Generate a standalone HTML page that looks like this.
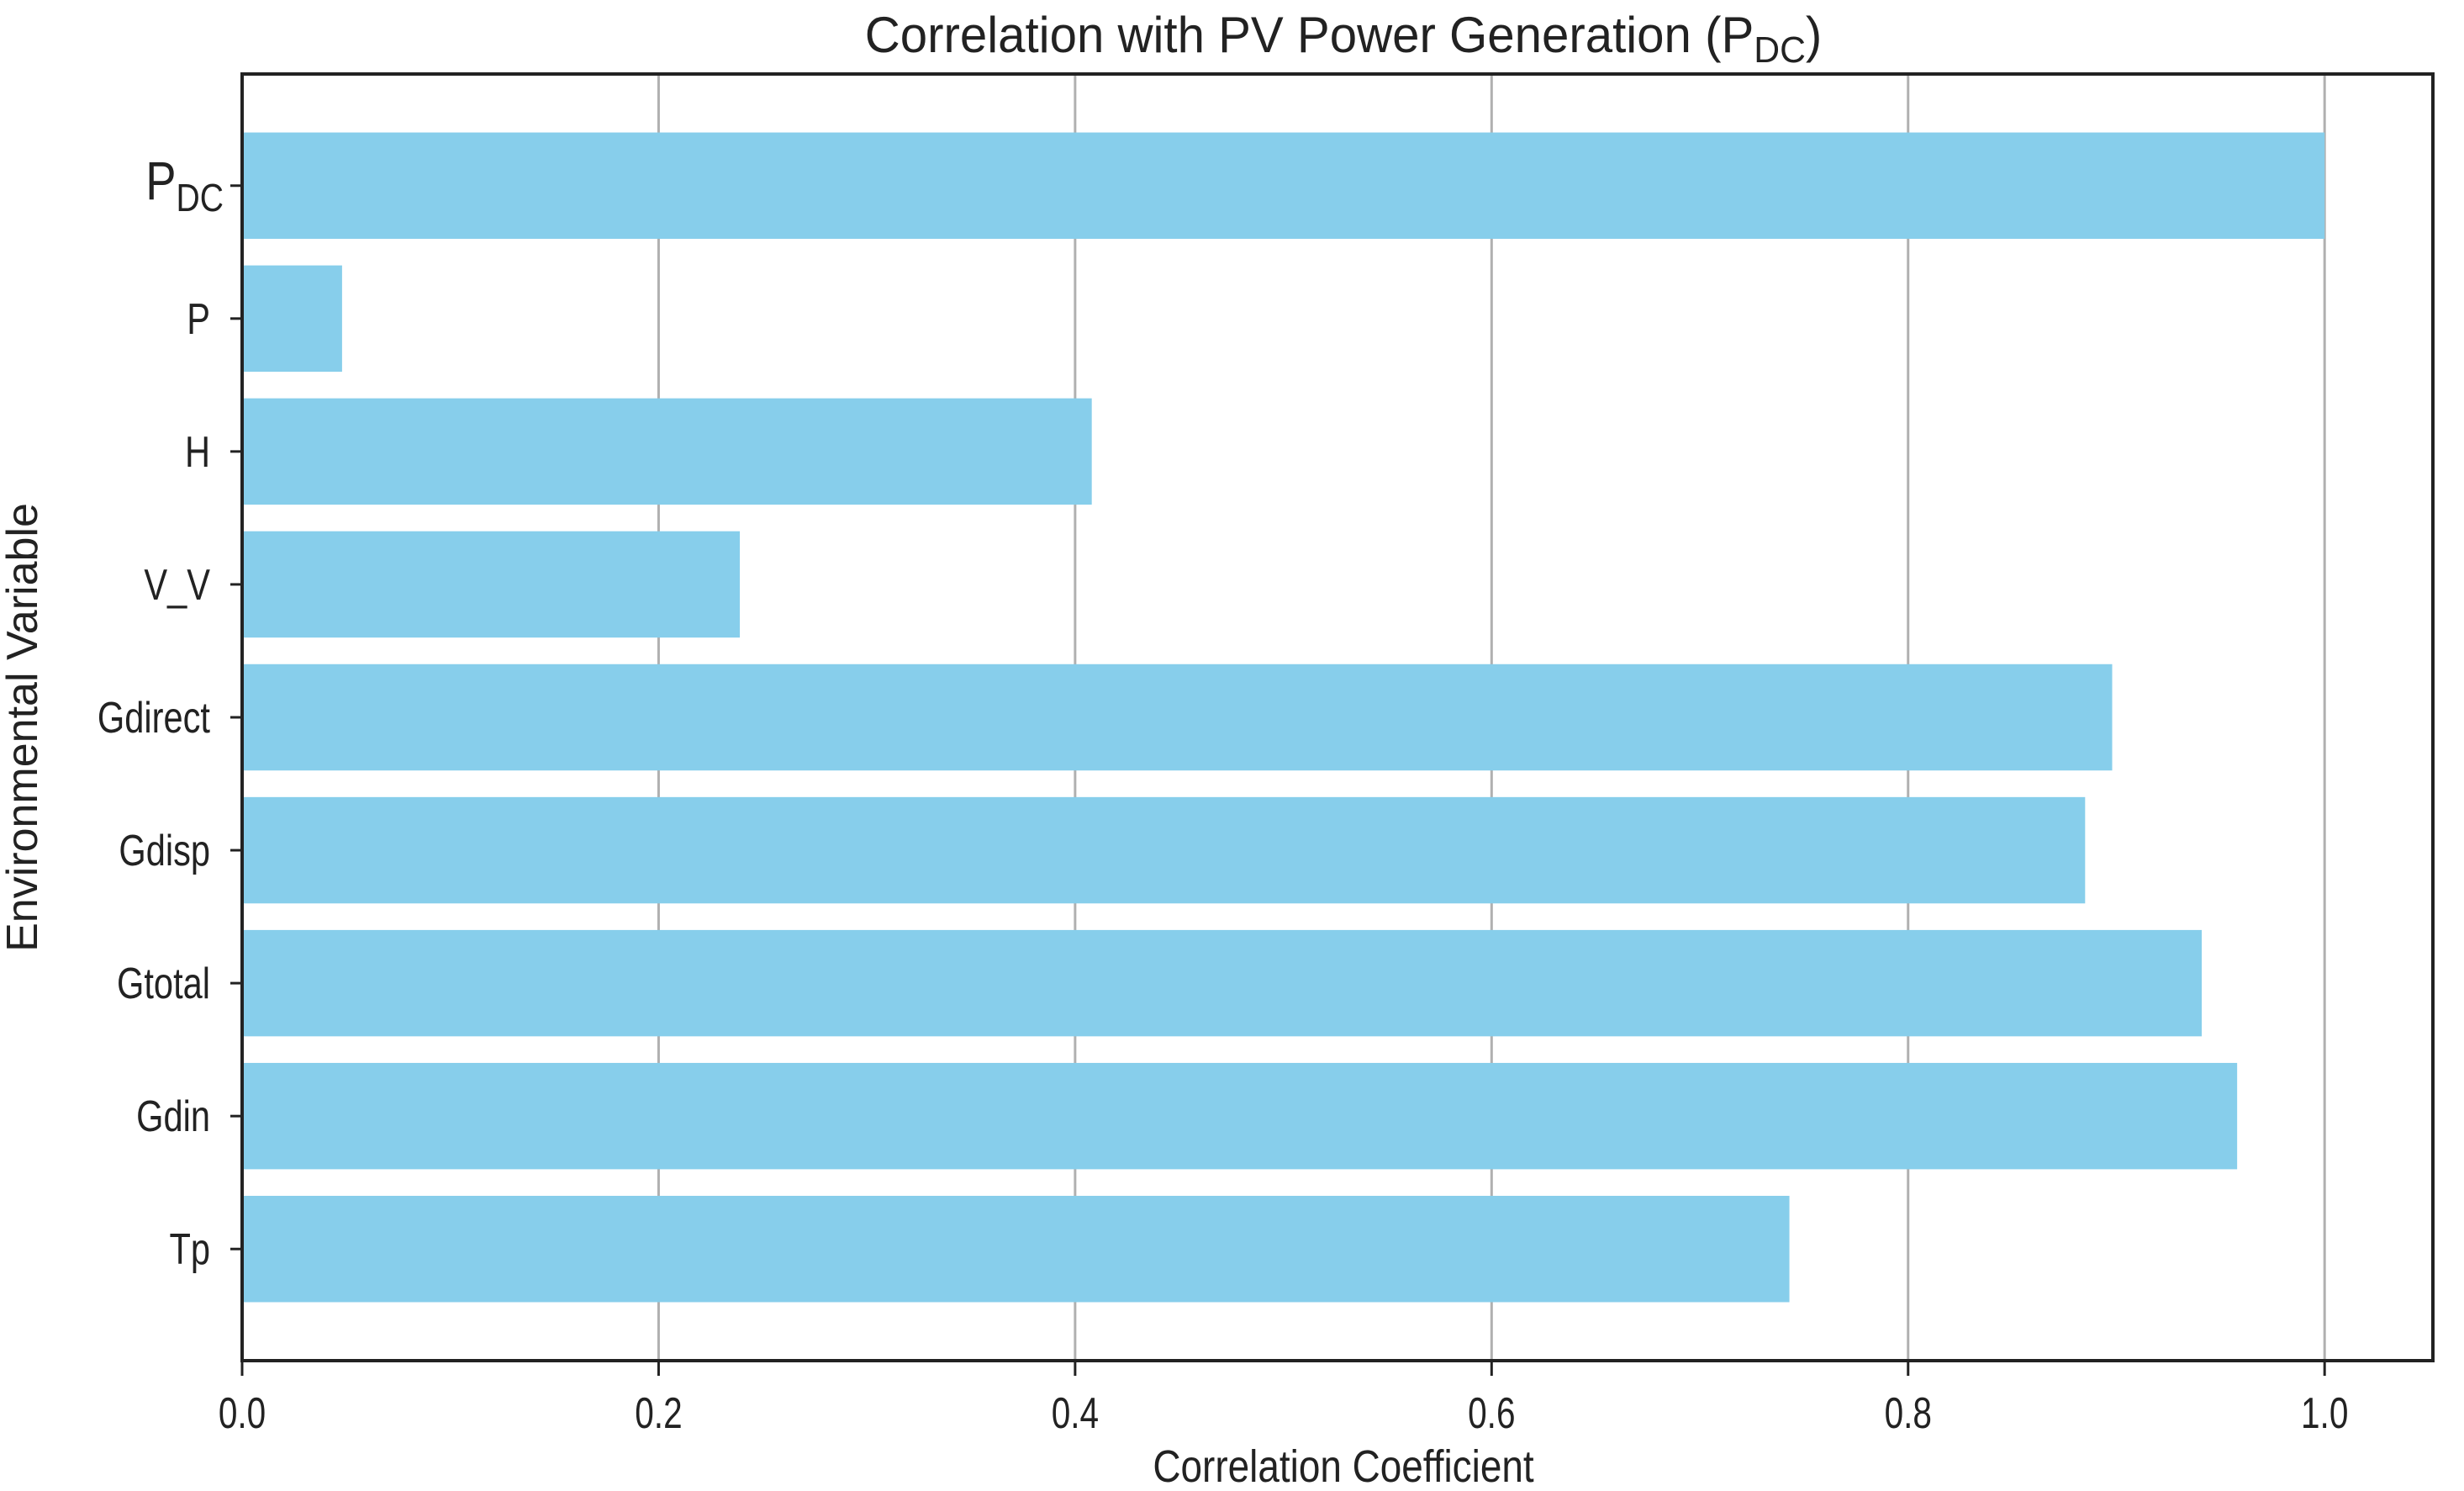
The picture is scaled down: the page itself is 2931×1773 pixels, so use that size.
<!DOCTYPE html>
<html><head><meta charset="utf-8"><style>
html,body{margin:0;padding:0;background:#fff}
svg text{font-family:"Liberation Sans",sans-serif;fill:#222}
</style></head><body>
<svg id="chart" width="2931" height="1768" viewBox="0 0 2931 1768" xmlns="http://www.w3.org/2000/svg">
<rect width="2931" height="1768" fill="#fff"/>
<g id="grid"></g><g id="bars"></g><g id="axes"></g>
</svg>
<script>
const categories = ["Tp","Gdin","Gtotal","Gdisp","Gdirect","V_V","H","P","PDC"];
const values = [0.743,0.958,0.941,0.885,0.898,0.239,0.408,0.048,1.0];
const xTicks = [0.0,0.2,0.4,0.6,0.8,1.0];
const xTickLabels = ["0.0","0.2","0.4","0.6","0.8","1.0"];

const NS="http://www.w3.org/2000/svg";
const L=288,R=2894,T=88,B=1618;
const xMin=0,xMax=1.052;
const yMin=-0.84,yMax=categories.length-1+0.84;
const x=v=>L+(v-xMin)/(xMax-xMin)*(R-L);
const y=v=>B-(v-yMin)/(yMax-yMin)*(B-T);
function mk(tag,attrs,parent,text){const e=document.createElementNS(NS,tag);for(const k in attrs)e.setAttribute(k,attrs[k]);if(text!==undefined)e.textContent=text;parent.appendChild(e);return e;}
const grid=document.getElementById('grid'),bars=document.getElementById('bars'),axes=document.getElementById('axes');
xTicks.forEach((t,i)=>{
  const g=mk('line',{x1:x(t),x2:x(t),y1:T,y2:B,stroke:'#b0b0b0','stroke-width':3},grid);
  
  
});
const bh=0.8*(B-T)/(yMax-yMin);
values.forEach((v,i)=>{
  const r=mk('rect',{x:x(0),y:y(i)-bh/2,width:x(v)-x(0),height:bh,fill:'#87ceeb'},bars);
  
  
});
const frame=mk('rect',{x:L,y:T,width:R-L,height:B-T,fill:'none',stroke:'#222','stroke-width':4},axes);


xTicks.forEach((t,i)=>{
  mk('line',{x1:x(t),x2:x(t),y1:B,y2:B+18,stroke:'#222','stroke-width':3},axes);
  const tx=mk('text',{'font-size':52,'text-anchor':'middle',transform:'translate('+x(t)+','+(B+80)+') scale(0.78,1)'},axes,xTickLabels[i]);
  
  
});
categories.forEach((c,i)=>{
  mk('line',{x1:L,x2:L-14,y1:y(i),y2:y(i),stroke:'#222','stroke-width':3},axes);
  let tx;
  if(c==="PDC"){
    tx=mk('text',{'font-size':64,'text-anchor':'end',transform:'translate('+(L-22)+','+(y(i)+16)+') scale(0.85,1)'},axes);
    mk('tspan',{},tx,'P');
    mk('tspan',{'font-size':46,dy:14},tx,'DC');
  } else {
    tx=mk('text',{'font-size':52,'text-anchor':'end',transform:'translate('+(L-38)+','+(y(i)+18)+') scale(0.8,1)'},axes,c);
  }
  
  
});
const title=mk('text',{'font-size':60,'text-anchor':'middle',transform:'translate(1598,62) scale(0.97,1)'},axes);
mk('tspan',{},title,'Correlation with PV Power Generation (P');
mk('tspan',{'font-size':44,dy:12},title,'DC');
mk('tspan',{dy:-12},title,')');


const xl=mk('text',{'font-size':54,'text-anchor':'middle',transform:'translate(1598,1762) scale(0.85,1)'},axes,'Correlation Coefficient');


const yl=mk('text',{x:0,y:0,'font-size':52,'text-anchor':'middle',transform:'translate(44,865) rotate(-90)'},axes,'Environmental Variable');


</script>
</body></html>
